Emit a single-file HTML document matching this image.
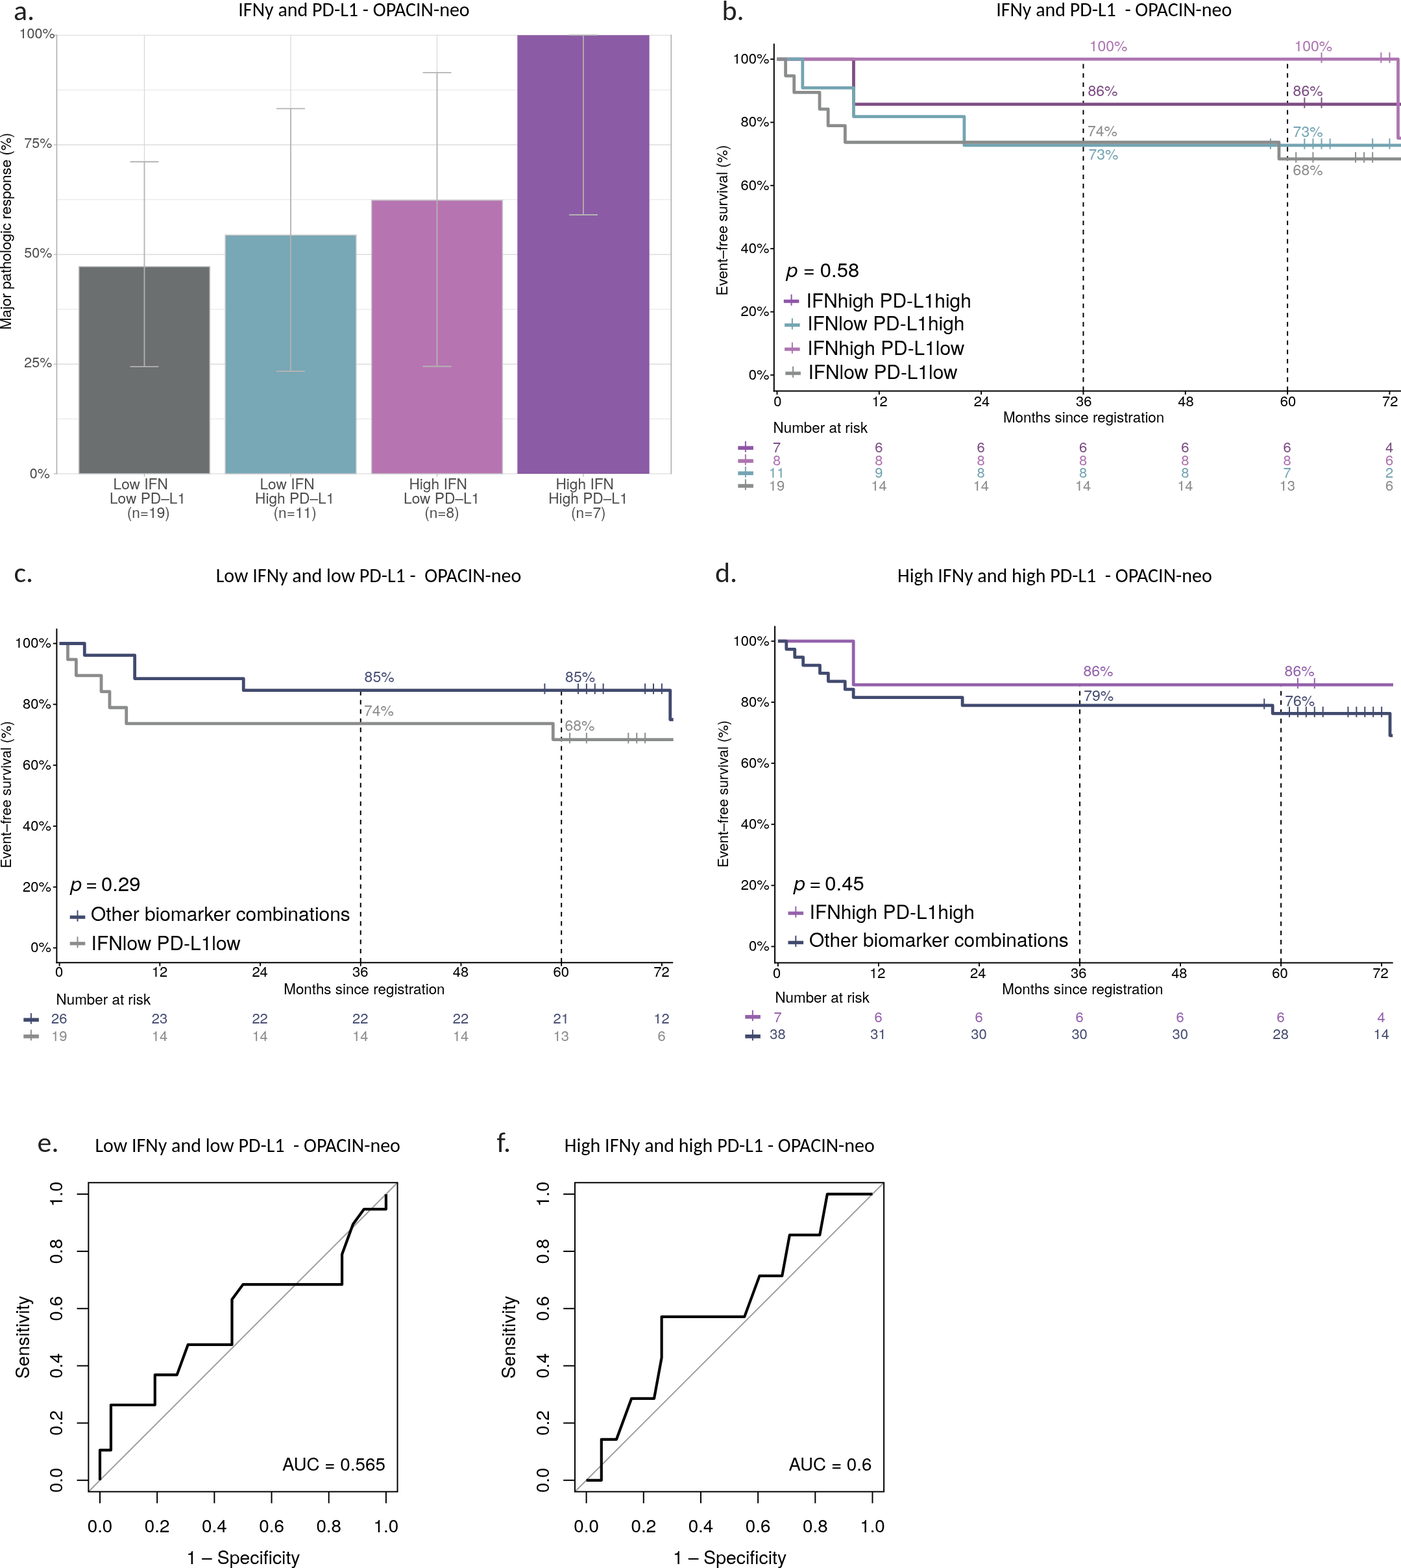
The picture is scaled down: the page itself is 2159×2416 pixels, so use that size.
<!DOCTYPE html>
<html><head><meta charset="utf-8"><title>Figure</title>
<style>html,body{margin:0;padding:0;background:#fff;}body{width:2159px;height:2416px;overflow:hidden;}svg{display:block;}</style>
</head><body>
<svg width="2159" height="2416" viewBox="0 0 2159 2416">
<rect x="0.00" y="0.00" width="2159.00" height="2416.00" fill="#fff" />
<line x1="87.50" y1="645.52" x2="1034.30" y2="645.52" stroke="#e5e5e5" stroke-width="1.0" />
<line x1="87.50" y1="476.58" x2="1034.30" y2="476.58" stroke="#e5e5e5" stroke-width="1.0" />
<line x1="87.50" y1="307.62" x2="1034.30" y2="307.62" stroke="#e5e5e5" stroke-width="1.0" />
<line x1="87.50" y1="138.68" x2="1034.30" y2="138.68" stroke="#e5e5e5" stroke-width="1.0" />
<line x1="87.50" y1="730.00" x2="1034.30" y2="730.00" stroke="#d6d6d6" stroke-width="1.15" />
<line x1="87.50" y1="561.05" x2="1034.30" y2="561.05" stroke="#d6d6d6" stroke-width="1.15" />
<line x1="87.50" y1="392.10" x2="1034.30" y2="392.10" stroke="#d6d6d6" stroke-width="1.15" />
<line x1="87.50" y1="223.15" x2="1034.30" y2="223.15" stroke="#d6d6d6" stroke-width="1.15" />
<line x1="87.50" y1="54.20" x2="1034.30" y2="54.20" stroke="#d6d6d6" stroke-width="1.15" />
<line x1="222.50" y1="54.20" x2="222.50" y2="730.00" stroke="#d6d6d6" stroke-width="1.15" />
<line x1="448.00" y1="54.20" x2="448.00" y2="730.00" stroke="#d6d6d6" stroke-width="1.15" />
<line x1="673.50" y1="54.20" x2="673.50" y2="730.00" stroke="#d6d6d6" stroke-width="1.15" />
<line x1="899.00" y1="54.20" x2="899.00" y2="730.00" stroke="#d6d6d6" stroke-width="1.15" />
<rect x="121.60" y="410.68" width="201.80" height="319.32" fill="#6b6f70" stroke="#c9c9cc" stroke-width="1.6"/>
<rect x="347.10" y="362.18" width="201.80" height="367.82" fill="#78a7b5" stroke="#c9c9cc" stroke-width="1.6"/>
<rect x="572.60" y="308.43" width="201.80" height="421.57" fill="#b675b0" stroke="#c9c9cc" stroke-width="1.6"/>
<rect x="797.30" y="54.20" width="203.40" height="675.80" fill="#8c5ba5" />
<line x1="87.50" y1="53.60" x2="87.50" y2="730.60" stroke="#a6a6a6" stroke-width="1.4" />
<line x1="1034.30" y1="53.60" x2="1034.30" y2="730.60" stroke="#a6a6a6" stroke-width="1.4" />
<line x1="222.50" y1="564.79" x2="222.50" y2="249.26" stroke="#b3b3b3" stroke-width="1.8" />
<line x1="200.50" y1="564.79" x2="244.50" y2="564.79" stroke="#b3b3b3" stroke-width="1.8" />
<line x1="200.50" y1="249.26" x2="244.50" y2="249.26" stroke="#b3b3b3" stroke-width="1.8" />
<line x1="448.00" y1="572.00" x2="448.00" y2="167.39" stroke="#b3b3b3" stroke-width="1.8" />
<line x1="426.00" y1="572.00" x2="470.00" y2="572.00" stroke="#b3b3b3" stroke-width="1.8" />
<line x1="426.00" y1="167.39" x2="470.00" y2="167.39" stroke="#b3b3b3" stroke-width="1.8" />
<line x1="673.50" y1="564.52" x2="673.50" y2="111.80" stroke="#b3b3b3" stroke-width="1.8" />
<line x1="651.50" y1="564.52" x2="695.50" y2="564.52" stroke="#b3b3b3" stroke-width="1.8" />
<line x1="651.50" y1="111.80" x2="695.50" y2="111.80" stroke="#b3b3b3" stroke-width="1.8" />
<line x1="899.00" y1="331.02" x2="899.00" y2="54.20" stroke="#b3b3b3" stroke-width="1.8" />
<line x1="877.00" y1="331.02" x2="921.00" y2="331.02" stroke="#b3b3b3" stroke-width="1.8" />
<line x1="877.00" y1="54.20" x2="921.00" y2="54.20" stroke="#b3b3b3" stroke-width="1.8" />
<line x1="82.80" y1="54.20" x2="87.50" y2="54.20" stroke="#b3b3b3" stroke-width="1.2" />
<text x="84.60" y="59.40" font-size="21.5" fill="#4d4d4d" text-anchor="end" font-family="'TeX Gyre Heros', 'Liberation Sans', Arial, Helvetica, sans-serif" style="white-space:pre" >100%</text>
<line x1="82.80" y1="223.15" x2="87.50" y2="223.15" stroke="#b3b3b3" stroke-width="1.2" />
<text x="80.30" y="228.35" font-size="21.5" fill="#4d4d4d" text-anchor="end" font-family="'TeX Gyre Heros', 'Liberation Sans', Arial, Helvetica, sans-serif" style="white-space:pre" >75%</text>
<line x1="82.80" y1="392.10" x2="87.50" y2="392.10" stroke="#b3b3b3" stroke-width="1.2" />
<text x="80.30" y="397.30" font-size="21.5" fill="#4d4d4d" text-anchor="end" font-family="'TeX Gyre Heros', 'Liberation Sans', Arial, Helvetica, sans-serif" style="white-space:pre" >50%</text>
<line x1="82.80" y1="561.05" x2="87.50" y2="561.05" stroke="#b3b3b3" stroke-width="1.2" />
<text x="80.30" y="566.25" font-size="21.5" fill="#4d4d4d" text-anchor="end" font-family="'TeX Gyre Heros', 'Liberation Sans', Arial, Helvetica, sans-serif" style="white-space:pre" >25%</text>
<line x1="82.80" y1="730.00" x2="87.50" y2="730.00" stroke="#b3b3b3" stroke-width="1.2" />
<text x="76.80" y="736.50" font-size="21.5" fill="#4d4d4d" text-anchor="end" font-family="'TeX Gyre Heros', 'Liberation Sans', Arial, Helvetica, sans-serif" style="white-space:pre" >0%</text>
<line x1="222.50" y1="730.00" x2="222.50" y2="734.40" stroke="#b3b3b3" stroke-width="1.2" />
<line x1="448.00" y1="730.00" x2="448.00" y2="734.40" stroke="#b3b3b3" stroke-width="1.2" />
<line x1="673.50" y1="730.00" x2="673.50" y2="734.40" stroke="#b3b3b3" stroke-width="1.2" />
<line x1="899.00" y1="730.00" x2="899.00" y2="734.40" stroke="#b3b3b3" stroke-width="1.2" />
<text x="216.70" y="753.60" font-size="22.7" fill="#4d4d4d" text-anchor="middle" font-family="'TeX Gyre Heros', 'Liberation Sans', Arial, Helvetica, sans-serif" style="white-space:pre" >Low IFN</text>
<text x="227.50" y="775.70" font-size="22.7" fill="#4d4d4d" text-anchor="middle" font-family="'TeX Gyre Heros', 'Liberation Sans', Arial, Helvetica, sans-serif" style="white-space:pre" >Low PD–L1</text>
<text x="228.80" y="797.60" font-size="22.7" fill="#4d4d4d" text-anchor="middle" font-family="'TeX Gyre Heros', 'Liberation Sans', Arial, Helvetica, sans-serif" style="white-space:pre" >(n=19)</text>
<text x="442.60" y="753.60" font-size="22.7" fill="#4d4d4d" text-anchor="middle" font-family="'TeX Gyre Heros', 'Liberation Sans', Arial, Helvetica, sans-serif" style="white-space:pre" >Low IFN</text>
<text x="454.20" y="775.70" font-size="22.7" fill="#4d4d4d" text-anchor="middle" font-family="'TeX Gyre Heros', 'Liberation Sans', Arial, Helvetica, sans-serif" style="white-space:pre" >High PD–L1</text>
<text x="454.60" y="797.60" font-size="22.7" fill="#4d4d4d" text-anchor="middle" font-family="'TeX Gyre Heros', 'Liberation Sans', Arial, Helvetica, sans-serif" style="white-space:pre" >(n=11)</text>
<text x="675.20" y="753.60" font-size="22.7" fill="#4d4d4d" text-anchor="middle" font-family="'TeX Gyre Heros', 'Liberation Sans', Arial, Helvetica, sans-serif" style="white-space:pre" >High IFN</text>
<text x="680.60" y="775.70" font-size="22.7" fill="#4d4d4d" text-anchor="middle" font-family="'TeX Gyre Heros', 'Liberation Sans', Arial, Helvetica, sans-serif" style="white-space:pre" >Low PD–L1</text>
<text x="681.00" y="797.60" font-size="22.7" fill="#4d4d4d" text-anchor="middle" font-family="'TeX Gyre Heros', 'Liberation Sans', Arial, Helvetica, sans-serif" style="white-space:pre" >(n=8)</text>
<text x="901.20" y="753.60" font-size="22.7" fill="#4d4d4d" text-anchor="middle" font-family="'TeX Gyre Heros', 'Liberation Sans', Arial, Helvetica, sans-serif" style="white-space:pre" >High IFN</text>
<text x="906.40" y="775.70" font-size="22.7" fill="#4d4d4d" text-anchor="middle" font-family="'TeX Gyre Heros', 'Liberation Sans', Arial, Helvetica, sans-serif" style="white-space:pre" >High PD–L1</text>
<text x="906.80" y="797.60" font-size="22.7" fill="#4d4d4d" text-anchor="middle" font-family="'TeX Gyre Heros', 'Liberation Sans', Arial, Helvetica, sans-serif" style="white-space:pre" >(n=7)</text>
<text x="0.00" y="0.00" font-size="22.4" fill="#000" text-anchor="middle" font-family="'TeX Gyre Heros', 'Liberation Sans', Arial, Helvetica, sans-serif" style="white-space:pre" transform="translate(17.0,356.4) rotate(-90)">Major pathologic response (%)</text>
<text x="21.00" y="30.80" font-size="44" fill="#222" text-anchor="start" font-family="Carlito, Calibri, 'Liberation Sans', sans-serif" style="white-space:pre"  textLength="32.19" lengthAdjust="spacingAndGlyphs">a.</text>
<text x="545.50" y="24.80" font-size="30" fill="#000" text-anchor="middle" font-family="Carlito, Calibri, 'Liberation Sans', sans-serif" style="white-space:pre"  textLength="356.36" lengthAdjust="spacingAndGlyphs">IFNy and PD-L1 - OPACIN-neo</text>
<path d="M1669.46,602.60 V91.20" fill="none" stroke="#000" stroke-width="2.0" stroke-dasharray="7.1 7.1"/>
<path d="M1984.10,602.60 V91.20" fill="none" stroke="#000" stroke-width="2.0" stroke-dasharray="7.1 7.1"/>
<path d="M1197.50,91.20 H1315.49 V160.71 H2164.00" fill="none" stroke="#7f4f84" stroke-width="4.8" stroke-linejoin="round"/>
<line x1="2010.32" y1="150.21" x2="2010.32" y2="166.51" stroke="#7f4f84" stroke-width="2.0" />
<line x1="2036.54" y1="150.21" x2="2036.54" y2="166.51" stroke="#7f4f84" stroke-width="2.0" />
<path d="M1197.50,91.20 H2154.53 V212.85 H2164.00" fill="none" stroke="#ad75b0" stroke-width="4.8" stroke-linejoin="round"/>
<line x1="2036.54" y1="80.70" x2="2036.54" y2="97.00" stroke="#ad75b0" stroke-width="2.0" />
<line x1="2128.31" y1="80.70" x2="2128.31" y2="97.00" stroke="#ad75b0" stroke-width="2.0" />
<line x1="2141.42" y1="80.70" x2="2141.42" y2="97.00" stroke="#ad75b0" stroke-width="2.0" />
<path d="M1197.50,91.20 H1236.83 V135.44 H1315.49 V179.67 H1485.92 V223.91 H2164.00" fill="none" stroke="#74a4b2" stroke-width="4.8" stroke-linejoin="round"/>
<line x1="1957.88" y1="213.41" x2="1957.88" y2="229.71" stroke="#74a4b2" stroke-width="2.0" />
<line x1="2010.32" y1="213.41" x2="2010.32" y2="229.71" stroke="#74a4b2" stroke-width="2.0" />
<line x1="2023.43" y1="213.41" x2="2023.43" y2="229.71" stroke="#74a4b2" stroke-width="2.0" />
<line x1="2036.54" y1="213.41" x2="2036.54" y2="229.71" stroke="#74a4b2" stroke-width="2.0" />
<line x1="2049.65" y1="213.41" x2="2049.65" y2="229.71" stroke="#74a4b2" stroke-width="2.0" />
<line x1="2115.20" y1="213.41" x2="2115.20" y2="229.71" stroke="#74a4b2" stroke-width="2.0" />
<line x1="2141.42" y1="213.41" x2="2141.42" y2="229.71" stroke="#74a4b2" stroke-width="2.0" />
<path d="M1197.50,91.20 H1210.61 V116.81 H1223.72 V142.42 H1263.05 V168.03 H1276.16 V193.64 H1302.38 V219.25 H1970.99 V244.86 H2164.00" fill="none" stroke="#8b8c8c" stroke-width="4.8" stroke-linejoin="round"/>
<line x1="1997.21" y1="234.36" x2="1997.21" y2="250.66" stroke="#8b8c8c" stroke-width="2.0" />
<line x1="2023.43" y1="234.36" x2="2023.43" y2="250.66" stroke="#8b8c8c" stroke-width="2.0" />
<line x1="2088.98" y1="234.36" x2="2088.98" y2="250.66" stroke="#8b8c8c" stroke-width="2.0" />
<line x1="2102.09" y1="234.36" x2="2102.09" y2="250.66" stroke="#8b8c8c" stroke-width="2.0" />
<line x1="2115.20" y1="234.36" x2="2115.20" y2="250.66" stroke="#8b8c8c" stroke-width="2.0" />
<line x1="1192.80" y1="67.20" x2="1192.80" y2="603.60" stroke="#000" stroke-width="2.0" />
<line x1="1191.80" y1="602.60" x2="2165.00" y2="602.60" stroke="#000" stroke-width="2.0" />
<line x1="1187.20" y1="577.80" x2="1192.80" y2="577.80" stroke="#000" stroke-width="1.9" />
<text x="1185.60" y="584.70" font-size="22" fill="#000" text-anchor="end" font-family="'TeX Gyre Heros', 'Liberation Sans', Arial, Helvetica, sans-serif" style="white-space:pre" >0%</text>
<line x1="1187.20" y1="480.48" x2="1192.80" y2="480.48" stroke="#000" stroke-width="1.9" />
<text x="1185.60" y="487.38" font-size="22" fill="#000" text-anchor="end" font-family="'TeX Gyre Heros', 'Liberation Sans', Arial, Helvetica, sans-serif" style="white-space:pre" >20%</text>
<line x1="1187.20" y1="383.16" x2="1192.80" y2="383.16" stroke="#000" stroke-width="1.9" />
<text x="1185.60" y="390.06" font-size="22" fill="#000" text-anchor="end" font-family="'TeX Gyre Heros', 'Liberation Sans', Arial, Helvetica, sans-serif" style="white-space:pre" >40%</text>
<line x1="1187.20" y1="285.84" x2="1192.80" y2="285.84" stroke="#000" stroke-width="1.9" />
<text x="1185.60" y="292.74" font-size="22" fill="#000" text-anchor="end" font-family="'TeX Gyre Heros', 'Liberation Sans', Arial, Helvetica, sans-serif" style="white-space:pre" >60%</text>
<line x1="1187.20" y1="188.52" x2="1192.80" y2="188.52" stroke="#000" stroke-width="1.9" />
<text x="1185.60" y="195.42" font-size="22" fill="#000" text-anchor="end" font-family="'TeX Gyre Heros', 'Liberation Sans', Arial, Helvetica, sans-serif" style="white-space:pre" >80%</text>
<line x1="1187.20" y1="91.20" x2="1192.80" y2="91.20" stroke="#000" stroke-width="1.9" />
<text x="1185.60" y="98.10" font-size="22" fill="#000" text-anchor="end" font-family="'TeX Gyre Heros', 'Liberation Sans', Arial, Helvetica, sans-serif" style="white-space:pre" >100%</text>
<line x1="1197.50" y1="602.60" x2="1197.50" y2="608.00" stroke="#000" stroke-width="1.9" />
<text x="1198.30" y="625.60" font-size="22" fill="#000" text-anchor="middle" font-family="'TeX Gyre Heros', 'Liberation Sans', Arial, Helvetica, sans-serif" style="white-space:pre" >0</text>
<line x1="1354.82" y1="602.60" x2="1354.82" y2="608.00" stroke="#000" stroke-width="1.9" />
<text x="1355.62" y="625.60" font-size="22" fill="#000" text-anchor="middle" font-family="'TeX Gyre Heros', 'Liberation Sans', Arial, Helvetica, sans-serif" style="white-space:pre" >12</text>
<line x1="1512.14" y1="602.60" x2="1512.14" y2="608.00" stroke="#000" stroke-width="1.9" />
<text x="1512.94" y="625.60" font-size="22" fill="#000" text-anchor="middle" font-family="'TeX Gyre Heros', 'Liberation Sans', Arial, Helvetica, sans-serif" style="white-space:pre" >24</text>
<line x1="1669.46" y1="602.60" x2="1669.46" y2="608.00" stroke="#000" stroke-width="1.9" />
<text x="1670.26" y="625.60" font-size="22" fill="#000" text-anchor="middle" font-family="'TeX Gyre Heros', 'Liberation Sans', Arial, Helvetica, sans-serif" style="white-space:pre" >36</text>
<line x1="1826.78" y1="602.60" x2="1826.78" y2="608.00" stroke="#000" stroke-width="1.9" />
<text x="1827.58" y="625.60" font-size="22" fill="#000" text-anchor="middle" font-family="'TeX Gyre Heros', 'Liberation Sans', Arial, Helvetica, sans-serif" style="white-space:pre" >48</text>
<line x1="1984.10" y1="602.60" x2="1984.10" y2="608.00" stroke="#000" stroke-width="1.9" />
<text x="1984.90" y="625.60" font-size="22" fill="#000" text-anchor="middle" font-family="'TeX Gyre Heros', 'Liberation Sans', Arial, Helvetica, sans-serif" style="white-space:pre" >60</text>
<line x1="2141.42" y1="602.60" x2="2141.42" y2="608.00" stroke="#000" stroke-width="1.9" />
<text x="2142.22" y="625.60" font-size="22" fill="#000" text-anchor="middle" font-family="'TeX Gyre Heros', 'Liberation Sans', Arial, Helvetica, sans-serif" style="white-space:pre" >72</text>
<text x="1670.10" y="651.40" font-size="22.4" fill="#000" text-anchor="middle" font-family="'TeX Gyre Heros', 'Liberation Sans', Arial, Helvetica, sans-serif" style="white-space:pre" >Months since registration</text>
<text x="0.00" y="0.00" font-size="22.5" fill="#000" text-anchor="middle" font-family="'TeX Gyre Heros', 'Liberation Sans', Arial, Helvetica, sans-serif" style="white-space:pre" transform="translate(1121.30,339.50) rotate(-90)">Event–free survival (%)</text>
<text x="1678.70" y="78.50" font-size="23" fill="#ad75b0" text-anchor="start" font-family="'TeX Gyre Heros', 'Liberation Sans', Arial, Helvetica, sans-serif" style="white-space:pre" >100%</text>
<text x="1994.40" y="78.50" font-size="23" fill="#ad75b0" text-anchor="start" font-family="'TeX Gyre Heros', 'Liberation Sans', Arial, Helvetica, sans-serif" style="white-space:pre" >100%</text>
<text x="1676.50" y="148.40" font-size="23" fill="#7b4d82" text-anchor="start" font-family="'TeX Gyre Heros', 'Liberation Sans', Arial, Helvetica, sans-serif" style="white-space:pre" >86%</text>
<text x="1992.60" y="148.40" font-size="23" fill="#7b4d82" text-anchor="start" font-family="'TeX Gyre Heros', 'Liberation Sans', Arial, Helvetica, sans-serif" style="white-space:pre" >86%</text>
<text x="1676.00" y="209.70" font-size="23" fill="#8b8c8c" text-anchor="start" font-family="'TeX Gyre Heros', 'Liberation Sans', Arial, Helvetica, sans-serif" style="white-space:pre" >74%</text>
<text x="1992.60" y="210.50" font-size="23" fill="#74a4b2" text-anchor="start" font-family="'TeX Gyre Heros', 'Liberation Sans', Arial, Helvetica, sans-serif" style="white-space:pre" >73%</text>
<text x="1677.40" y="246.20" font-size="23" fill="#74a4b2" text-anchor="start" font-family="'TeX Gyre Heros', 'Liberation Sans', Arial, Helvetica, sans-serif" style="white-space:pre" >73%</text>
<text x="1992.60" y="269.60" font-size="23" fill="#8b8c8c" text-anchor="start" font-family="'TeX Gyre Heros', 'Liberation Sans', Arial, Helvetica, sans-serif" style="white-space:pre" >68%</text>
<text x="1212.00" y="427.30" font-size="31" fill="#000" font-family="'TeX Gyre Heros', 'Liberation Sans', Arial, Helvetica, sans-serif"><tspan font-style="italic">p</tspan><tspan dx="8.5">=</tspan><tspan dx="8">0.58</tspan></text>
<rect x="1207.80" y="461.60" width="23.60" height="5.20" fill="#8e55a8" />
<line x1="1219.60" y1="453.60" x2="1219.60" y2="470.80" stroke="#8e55a8" stroke-width="2.0" />
<text x="1242.60" y="473.50" font-size="29.9" fill="#000" text-anchor="start" font-family="'TeX Gyre Heros', 'Liberation Sans', Arial, Helvetica, sans-serif" style="white-space:pre" >IFNhigh PD-L1high</text>
<rect x="1209.10" y="498.30" width="23.60" height="5.20" fill="#74a4b2" />
<line x1="1220.90" y1="490.30" x2="1220.90" y2="507.50" stroke="#74a4b2" stroke-width="2.0" />
<text x="1244.20" y="509.20" font-size="29.9" fill="#000" text-anchor="start" font-family="'TeX Gyre Heros', 'Liberation Sans', Arial, Helvetica, sans-serif" style="white-space:pre" >IFNlow PD-L1high</text>
<rect x="1209.10" y="535.50" width="23.60" height="5.20" fill="#ad75b0" />
<line x1="1220.90" y1="527.50" x2="1220.90" y2="544.70" stroke="#ad75b0" stroke-width="2.0" />
<text x="1244.20" y="546.60" font-size="29.9" fill="#000" text-anchor="start" font-family="'TeX Gyre Heros', 'Liberation Sans', Arial, Helvetica, sans-serif" style="white-space:pre" >IFNhigh PD-L1low</text>
<rect x="1210.30" y="572.60" width="23.60" height="5.20" fill="#8b8c8c" />
<line x1="1222.10" y1="564.60" x2="1222.10" y2="581.80" stroke="#8b8c8c" stroke-width="2.0" />
<text x="1245.40" y="583.60" font-size="29.9" fill="#000" text-anchor="start" font-family="'TeX Gyre Heros', 'Liberation Sans', Arial, Helvetica, sans-serif" style="white-space:pre" >IFNlow PD-L1low</text>
<text x="1191.60" y="666.90" font-size="22.4" fill="#000" text-anchor="start" font-family="'TeX Gyre Heros', 'Liberation Sans', Arial, Helvetica, sans-serif" style="white-space:pre" >Number at risk</text>
<rect x="1137.30" y="687.30" width="23.60" height="5.80" fill="#8e55a8" />
<line x1="1148.90" y1="679.90" x2="1148.90" y2="696.60" stroke="#8e55a8" stroke-width="2.0" />
<text x="1197.10" y="697.40" font-size="22" fill="#7b4d82" text-anchor="middle" font-family="'TeX Gyre Heros', 'Liberation Sans', Arial, Helvetica, sans-serif" style="white-space:pre" >7</text>
<text x="1354.42" y="697.40" font-size="22" fill="#7b4d82" text-anchor="middle" font-family="'TeX Gyre Heros', 'Liberation Sans', Arial, Helvetica, sans-serif" style="white-space:pre" >6</text>
<text x="1511.74" y="697.40" font-size="22" fill="#7b4d82" text-anchor="middle" font-family="'TeX Gyre Heros', 'Liberation Sans', Arial, Helvetica, sans-serif" style="white-space:pre" >6</text>
<text x="1669.06" y="697.40" font-size="22" fill="#7b4d82" text-anchor="middle" font-family="'TeX Gyre Heros', 'Liberation Sans', Arial, Helvetica, sans-serif" style="white-space:pre" >6</text>
<text x="1826.38" y="697.40" font-size="22" fill="#7b4d82" text-anchor="middle" font-family="'TeX Gyre Heros', 'Liberation Sans', Arial, Helvetica, sans-serif" style="white-space:pre" >6</text>
<text x="1983.70" y="697.40" font-size="22" fill="#7b4d82" text-anchor="middle" font-family="'TeX Gyre Heros', 'Liberation Sans', Arial, Helvetica, sans-serif" style="white-space:pre" >6</text>
<text x="2141.02" y="697.40" font-size="22" fill="#7b4d82" text-anchor="middle" font-family="'TeX Gyre Heros', 'Liberation Sans', Arial, Helvetica, sans-serif" style="white-space:pre" >4</text>
<rect x="1137.30" y="707.40" width="23.60" height="5.80" fill="#ad75b0" />
<line x1="1148.90" y1="700.00" x2="1148.90" y2="716.70" stroke="#ad75b0" stroke-width="2.0" />
<text x="1197.10" y="716.60" font-size="22" fill="#ad75b0" text-anchor="middle" font-family="'TeX Gyre Heros', 'Liberation Sans', Arial, Helvetica, sans-serif" style="white-space:pre" >8</text>
<text x="1354.42" y="716.60" font-size="22" fill="#ad75b0" text-anchor="middle" font-family="'TeX Gyre Heros', 'Liberation Sans', Arial, Helvetica, sans-serif" style="white-space:pre" >8</text>
<text x="1511.74" y="716.60" font-size="22" fill="#ad75b0" text-anchor="middle" font-family="'TeX Gyre Heros', 'Liberation Sans', Arial, Helvetica, sans-serif" style="white-space:pre" >8</text>
<text x="1669.06" y="716.60" font-size="22" fill="#ad75b0" text-anchor="middle" font-family="'TeX Gyre Heros', 'Liberation Sans', Arial, Helvetica, sans-serif" style="white-space:pre" >8</text>
<text x="1826.38" y="716.60" font-size="22" fill="#ad75b0" text-anchor="middle" font-family="'TeX Gyre Heros', 'Liberation Sans', Arial, Helvetica, sans-serif" style="white-space:pre" >8</text>
<text x="1983.70" y="716.60" font-size="22" fill="#ad75b0" text-anchor="middle" font-family="'TeX Gyre Heros', 'Liberation Sans', Arial, Helvetica, sans-serif" style="white-space:pre" >8</text>
<text x="2141.02" y="716.60" font-size="22" fill="#ad75b0" text-anchor="middle" font-family="'TeX Gyre Heros', 'Liberation Sans', Arial, Helvetica, sans-serif" style="white-space:pre" >6</text>
<rect x="1137.30" y="726.30" width="23.60" height="5.80" fill="#74a4b2" />
<line x1="1148.90" y1="718.90" x2="1148.90" y2="735.60" stroke="#74a4b2" stroke-width="2.0" />
<text x="1197.10" y="736.00" font-size="22" fill="#74a4b2" text-anchor="middle" font-family="'TeX Gyre Heros', 'Liberation Sans', Arial, Helvetica, sans-serif" style="white-space:pre" >11</text>
<text x="1354.42" y="736.00" font-size="22" fill="#74a4b2" text-anchor="middle" font-family="'TeX Gyre Heros', 'Liberation Sans', Arial, Helvetica, sans-serif" style="white-space:pre" >9</text>
<text x="1511.74" y="736.00" font-size="22" fill="#74a4b2" text-anchor="middle" font-family="'TeX Gyre Heros', 'Liberation Sans', Arial, Helvetica, sans-serif" style="white-space:pre" >8</text>
<text x="1669.06" y="736.00" font-size="22" fill="#74a4b2" text-anchor="middle" font-family="'TeX Gyre Heros', 'Liberation Sans', Arial, Helvetica, sans-serif" style="white-space:pre" >8</text>
<text x="1826.38" y="736.00" font-size="22" fill="#74a4b2" text-anchor="middle" font-family="'TeX Gyre Heros', 'Liberation Sans', Arial, Helvetica, sans-serif" style="white-space:pre" >8</text>
<text x="1983.70" y="736.00" font-size="22" fill="#74a4b2" text-anchor="middle" font-family="'TeX Gyre Heros', 'Liberation Sans', Arial, Helvetica, sans-serif" style="white-space:pre" >7</text>
<text x="2141.02" y="736.00" font-size="22" fill="#74a4b2" text-anchor="middle" font-family="'TeX Gyre Heros', 'Liberation Sans', Arial, Helvetica, sans-serif" style="white-space:pre" >2</text>
<rect x="1137.30" y="745.80" width="23.60" height="5.80" fill="#8b8c8c" />
<line x1="1148.90" y1="738.40" x2="1148.90" y2="755.10" stroke="#8b8c8c" stroke-width="2.0" />
<text x="1197.10" y="756.20" font-size="22" fill="#8b8c8c" text-anchor="middle" font-family="'TeX Gyre Heros', 'Liberation Sans', Arial, Helvetica, sans-serif" style="white-space:pre" >19</text>
<text x="1354.42" y="756.20" font-size="22" fill="#8b8c8c" text-anchor="middle" font-family="'TeX Gyre Heros', 'Liberation Sans', Arial, Helvetica, sans-serif" style="white-space:pre" >14</text>
<text x="1511.74" y="756.20" font-size="22" fill="#8b8c8c" text-anchor="middle" font-family="'TeX Gyre Heros', 'Liberation Sans', Arial, Helvetica, sans-serif" style="white-space:pre" >14</text>
<text x="1669.06" y="756.20" font-size="22" fill="#8b8c8c" text-anchor="middle" font-family="'TeX Gyre Heros', 'Liberation Sans', Arial, Helvetica, sans-serif" style="white-space:pre" >14</text>
<text x="1826.38" y="756.20" font-size="22" fill="#8b8c8c" text-anchor="middle" font-family="'TeX Gyre Heros', 'Liberation Sans', Arial, Helvetica, sans-serif" style="white-space:pre" >14</text>
<text x="1983.70" y="756.20" font-size="22" fill="#8b8c8c" text-anchor="middle" font-family="'TeX Gyre Heros', 'Liberation Sans', Arial, Helvetica, sans-serif" style="white-space:pre" >13</text>
<text x="2141.02" y="756.20" font-size="22" fill="#8b8c8c" text-anchor="middle" font-family="'TeX Gyre Heros', 'Liberation Sans', Arial, Helvetica, sans-serif" style="white-space:pre" >6</text>
<text x="1112.50" y="30.70" font-size="44" fill="#222" text-anchor="start" font-family="Carlito, Calibri, 'Liberation Sans', sans-serif" style="white-space:pre"  textLength="34.23" lengthAdjust="spacingAndGlyphs">b.</text>
<text x="1716.70" y="24.80" font-size="30" fill="#000" text-anchor="middle" font-family="Carlito, Calibri, 'Liberation Sans', sans-serif" style="white-space:pre"  textLength="363.14" lengthAdjust="spacingAndGlyphs">IFNy and PD-L1  - OPACIN-neo</text>
<path d="M555.75,1483.20 V1063.65" fill="none" stroke="#000" stroke-width="2.0" stroke-dasharray="7.1 7.1"/>
<path d="M865.18,1483.20 V1063.65" fill="none" stroke="#000" stroke-width="2.0" stroke-dasharray="7.1 7.1"/>
<path d="M91.60,991.50 H104.49 V1016.18 H117.39 V1040.87 H156.06 V1065.55 H168.96 V1090.24 H194.74 V1114.92 H852.29 V1139.61 H1037.70" fill="none" stroke="#8b8c8c" stroke-width="4.8" stroke-linejoin="round"/>
<line x1="878.07" y1="1129.11" x2="878.07" y2="1145.41" stroke="#8b8c8c" stroke-width="2.0" />
<line x1="903.86" y1="1129.11" x2="903.86" y2="1145.41" stroke="#8b8c8c" stroke-width="2.0" />
<line x1="968.32" y1="1129.11" x2="968.32" y2="1145.41" stroke="#8b8c8c" stroke-width="2.0" />
<line x1="981.22" y1="1129.11" x2="981.22" y2="1145.41" stroke="#8b8c8c" stroke-width="2.0" />
<line x1="994.11" y1="1129.11" x2="994.11" y2="1145.41" stroke="#8b8c8c" stroke-width="2.0" />
<path d="M91.60,991.50 H130.28 V1009.54 H207.64 V1045.62 H375.25 V1063.65 H1032.79 V1108.75 H1037.70" fill="none" stroke="#414a6e" stroke-width="4.8" stroke-linejoin="round"/>
<line x1="839.39" y1="1053.15" x2="839.39" y2="1069.45" stroke="#414a6e" stroke-width="2.0" />
<line x1="890.97" y1="1053.15" x2="890.97" y2="1069.45" stroke="#414a6e" stroke-width="2.0" />
<line x1="903.86" y1="1053.15" x2="903.86" y2="1069.45" stroke="#414a6e" stroke-width="2.0" />
<line x1="916.75" y1="1053.15" x2="916.75" y2="1069.45" stroke="#414a6e" stroke-width="2.0" />
<line x1="929.65" y1="1053.15" x2="929.65" y2="1069.45" stroke="#414a6e" stroke-width="2.0" />
<line x1="994.11" y1="1053.15" x2="994.11" y2="1069.45" stroke="#414a6e" stroke-width="2.0" />
<line x1="1007.00" y1="1053.15" x2="1007.00" y2="1069.45" stroke="#414a6e" stroke-width="2.0" />
<line x1="1019.90" y1="1053.15" x2="1019.90" y2="1069.45" stroke="#414a6e" stroke-width="2.0" />
<line x1="87.40" y1="968.50" x2="87.40" y2="1484.20" stroke="#000" stroke-width="2.0" />
<line x1="86.40" y1="1483.20" x2="1037.30" y2="1483.20" stroke="#000" stroke-width="2.0" />
<line x1="81.80" y1="1460.50" x2="87.40" y2="1460.50" stroke="#000" stroke-width="1.9" />
<text x="79.00" y="1467.40" font-size="22" fill="#000" text-anchor="end" font-family="'TeX Gyre Heros', 'Liberation Sans', Arial, Helvetica, sans-serif" style="white-space:pre" >0%</text>
<line x1="81.80" y1="1366.70" x2="87.40" y2="1366.70" stroke="#000" stroke-width="1.9" />
<text x="79.00" y="1373.60" font-size="22" fill="#000" text-anchor="end" font-family="'TeX Gyre Heros', 'Liberation Sans', Arial, Helvetica, sans-serif" style="white-space:pre" >20%</text>
<line x1="81.80" y1="1272.90" x2="87.40" y2="1272.90" stroke="#000" stroke-width="1.9" />
<text x="79.00" y="1279.80" font-size="22" fill="#000" text-anchor="end" font-family="'TeX Gyre Heros', 'Liberation Sans', Arial, Helvetica, sans-serif" style="white-space:pre" >40%</text>
<line x1="81.80" y1="1179.10" x2="87.40" y2="1179.10" stroke="#000" stroke-width="1.9" />
<text x="79.00" y="1186.00" font-size="22" fill="#000" text-anchor="end" font-family="'TeX Gyre Heros', 'Liberation Sans', Arial, Helvetica, sans-serif" style="white-space:pre" >60%</text>
<line x1="81.80" y1="1085.30" x2="87.40" y2="1085.30" stroke="#000" stroke-width="1.9" />
<text x="79.00" y="1092.20" font-size="22" fill="#000" text-anchor="end" font-family="'TeX Gyre Heros', 'Liberation Sans', Arial, Helvetica, sans-serif" style="white-space:pre" >80%</text>
<line x1="81.80" y1="991.50" x2="87.40" y2="991.50" stroke="#000" stroke-width="1.9" />
<text x="79.00" y="998.40" font-size="22" fill="#000" text-anchor="end" font-family="'TeX Gyre Heros', 'Liberation Sans', Arial, Helvetica, sans-serif" style="white-space:pre" >100%</text>
<line x1="91.60" y1="1483.20" x2="91.60" y2="1488.60" stroke="#000" stroke-width="1.9" />
<text x="91.20" y="1505.30" font-size="22" fill="#000" text-anchor="middle" font-family="'TeX Gyre Heros', 'Liberation Sans', Arial, Helvetica, sans-serif" style="white-space:pre" >0</text>
<line x1="246.32" y1="1483.20" x2="246.32" y2="1488.60" stroke="#000" stroke-width="1.9" />
<text x="245.92" y="1505.30" font-size="22" fill="#000" text-anchor="middle" font-family="'TeX Gyre Heros', 'Liberation Sans', Arial, Helvetica, sans-serif" style="white-space:pre" >12</text>
<line x1="401.03" y1="1483.20" x2="401.03" y2="1488.60" stroke="#000" stroke-width="1.9" />
<text x="400.63" y="1505.30" font-size="22" fill="#000" text-anchor="middle" font-family="'TeX Gyre Heros', 'Liberation Sans', Arial, Helvetica, sans-serif" style="white-space:pre" >24</text>
<line x1="555.75" y1="1483.20" x2="555.75" y2="1488.60" stroke="#000" stroke-width="1.9" />
<text x="555.35" y="1505.30" font-size="22" fill="#000" text-anchor="middle" font-family="'TeX Gyre Heros', 'Liberation Sans', Arial, Helvetica, sans-serif" style="white-space:pre" >36</text>
<line x1="710.46" y1="1483.20" x2="710.46" y2="1488.60" stroke="#000" stroke-width="1.9" />
<text x="710.06" y="1505.30" font-size="22" fill="#000" text-anchor="middle" font-family="'TeX Gyre Heros', 'Liberation Sans', Arial, Helvetica, sans-serif" style="white-space:pre" >48</text>
<line x1="865.18" y1="1483.20" x2="865.18" y2="1488.60" stroke="#000" stroke-width="1.9" />
<text x="864.78" y="1505.30" font-size="22" fill="#000" text-anchor="middle" font-family="'TeX Gyre Heros', 'Liberation Sans', Arial, Helvetica, sans-serif" style="white-space:pre" >60</text>
<line x1="1019.90" y1="1483.20" x2="1019.90" y2="1488.60" stroke="#000" stroke-width="1.9" />
<text x="1019.50" y="1505.30" font-size="22" fill="#000" text-anchor="middle" font-family="'TeX Gyre Heros', 'Liberation Sans', Arial, Helvetica, sans-serif" style="white-space:pre" >72</text>
<text x="561.40" y="1531.50" font-size="22.4" fill="#000" text-anchor="middle" font-family="'TeX Gyre Heros', 'Liberation Sans', Arial, Helvetica, sans-serif" style="white-space:pre" >Months since registration</text>
<text x="0.00" y="0.00" font-size="22" fill="#000" text-anchor="middle" font-family="'TeX Gyre Heros', 'Liberation Sans', Arial, Helvetica, sans-serif" style="white-space:pre" transform="translate(17.20,1224.40) rotate(-90)">Event–free survival (%)</text>
<text x="561.60" y="1050.60" font-size="23" fill="#474e74" text-anchor="start" font-family="'TeX Gyre Heros', 'Liberation Sans', Arial, Helvetica, sans-serif" style="white-space:pre" >85%</text>
<text x="871.10" y="1050.60" font-size="23" fill="#474e74" text-anchor="start" font-family="'TeX Gyre Heros', 'Liberation Sans', Arial, Helvetica, sans-serif" style="white-space:pre" >85%</text>
<text x="561.00" y="1102.60" font-size="23" fill="#8b8c8c" text-anchor="start" font-family="'TeX Gyre Heros', 'Liberation Sans', Arial, Helvetica, sans-serif" style="white-space:pre" >74%</text>
<text x="870.50" y="1126.30" font-size="23" fill="#8b8c8c" text-anchor="start" font-family="'TeX Gyre Heros', 'Liberation Sans', Arial, Helvetica, sans-serif" style="white-space:pre" >68%</text>
<text x="108.70" y="1373.20" font-size="31" fill="#000" font-family="'TeX Gyre Heros', 'Liberation Sans', Arial, Helvetica, sans-serif"><tspan font-style="italic">p</tspan><tspan dx="6">=</tspan><tspan dx="6">0.29</tspan></text>
<rect x="107.70" y="1410.60" width="23.60" height="5.20" fill="#414a6e" />
<line x1="119.50" y1="1402.60" x2="119.50" y2="1419.80" stroke="#414a6e" stroke-width="2.0" />
<text x="140.00" y="1418.50" font-size="29.9" fill="#000" text-anchor="start" font-family="'TeX Gyre Heros', 'Liberation Sans', Arial, Helvetica, sans-serif" style="white-space:pre" >Other biomarker combinations</text>
<rect x="107.70" y="1451.20" width="23.60" height="5.20" fill="#8b8c8c" />
<line x1="119.50" y1="1443.20" x2="119.50" y2="1460.40" stroke="#8b8c8c" stroke-width="2.0" />
<text x="140.60" y="1463.60" font-size="29.9" fill="#000" text-anchor="start" font-family="'TeX Gyre Heros', 'Liberation Sans', Arial, Helvetica, sans-serif" style="white-space:pre" >IFNlow PD-L1low</text>
<text x="86.60" y="1547.70" font-size="22.4" fill="#000" text-anchor="start" font-family="'TeX Gyre Heros', 'Liberation Sans', Arial, Helvetica, sans-serif" style="white-space:pre" >Number at risk</text>
<rect x="36.30" y="1568.50" width="23.60" height="5.80" fill="#414a6e" />
<line x1="47.90" y1="1561.10" x2="47.90" y2="1577.80" stroke="#414a6e" stroke-width="2.0" />
<text x="91.20" y="1576.60" font-size="22" fill="#474e74" text-anchor="middle" font-family="'TeX Gyre Heros', 'Liberation Sans', Arial, Helvetica, sans-serif" style="white-space:pre" >26</text>
<text x="245.92" y="1576.60" font-size="22" fill="#474e74" text-anchor="middle" font-family="'TeX Gyre Heros', 'Liberation Sans', Arial, Helvetica, sans-serif" style="white-space:pre" >23</text>
<text x="400.63" y="1576.60" font-size="22" fill="#474e74" text-anchor="middle" font-family="'TeX Gyre Heros', 'Liberation Sans', Arial, Helvetica, sans-serif" style="white-space:pre" >22</text>
<text x="555.35" y="1576.60" font-size="22" fill="#474e74" text-anchor="middle" font-family="'TeX Gyre Heros', 'Liberation Sans', Arial, Helvetica, sans-serif" style="white-space:pre" >22</text>
<text x="710.06" y="1576.60" font-size="22" fill="#474e74" text-anchor="middle" font-family="'TeX Gyre Heros', 'Liberation Sans', Arial, Helvetica, sans-serif" style="white-space:pre" >22</text>
<text x="864.78" y="1576.60" font-size="22" fill="#474e74" text-anchor="middle" font-family="'TeX Gyre Heros', 'Liberation Sans', Arial, Helvetica, sans-serif" style="white-space:pre" >21</text>
<text x="1019.50" y="1576.60" font-size="22" fill="#474e74" text-anchor="middle" font-family="'TeX Gyre Heros', 'Liberation Sans', Arial, Helvetica, sans-serif" style="white-space:pre" >12</text>
<rect x="36.30" y="1594.00" width="23.60" height="5.80" fill="#8b8c8c" />
<line x1="47.90" y1="1586.60" x2="47.90" y2="1603.30" stroke="#8b8c8c" stroke-width="2.0" />
<text x="91.20" y="1604.20" font-size="22" fill="#8b8c8c" text-anchor="middle" font-family="'TeX Gyre Heros', 'Liberation Sans', Arial, Helvetica, sans-serif" style="white-space:pre" >19</text>
<text x="245.92" y="1604.20" font-size="22" fill="#8b8c8c" text-anchor="middle" font-family="'TeX Gyre Heros', 'Liberation Sans', Arial, Helvetica, sans-serif" style="white-space:pre" >14</text>
<text x="400.63" y="1604.20" font-size="22" fill="#8b8c8c" text-anchor="middle" font-family="'TeX Gyre Heros', 'Liberation Sans', Arial, Helvetica, sans-serif" style="white-space:pre" >14</text>
<text x="555.35" y="1604.20" font-size="22" fill="#8b8c8c" text-anchor="middle" font-family="'TeX Gyre Heros', 'Liberation Sans', Arial, Helvetica, sans-serif" style="white-space:pre" >14</text>
<text x="710.06" y="1604.20" font-size="22" fill="#8b8c8c" text-anchor="middle" font-family="'TeX Gyre Heros', 'Liberation Sans', Arial, Helvetica, sans-serif" style="white-space:pre" >14</text>
<text x="864.78" y="1604.20" font-size="22" fill="#8b8c8c" text-anchor="middle" font-family="'TeX Gyre Heros', 'Liberation Sans', Arial, Helvetica, sans-serif" style="white-space:pre" >13</text>
<text x="1019.50" y="1604.20" font-size="22" fill="#8b8c8c" text-anchor="middle" font-family="'TeX Gyre Heros', 'Liberation Sans', Arial, Helvetica, sans-serif" style="white-space:pre" >6</text>
<text x="21.50" y="896.70" font-size="44" fill="#222" text-anchor="start" font-family="Carlito, Calibri, 'Liberation Sans', sans-serif" style="white-space:pre"  textLength="29.72" lengthAdjust="spacingAndGlyphs">c.</text>
<text x="568.00" y="897.00" font-size="30" fill="#000" text-anchor="middle" font-family="Carlito, Calibri, 'Liberation Sans', sans-serif" style="white-space:pre"  textLength="470.50" lengthAdjust="spacingAndGlyphs">Low IFNy and low PD-L1 -  OPACIN-neo</text>
<path d="M1664.02,1483.60 V1055.11" fill="none" stroke="#000" stroke-width="2.0" stroke-dasharray="7.1 7.1"/>
<path d="M1974.10,1483.60 V1055.11" fill="none" stroke="#000" stroke-width="2.0" stroke-dasharray="7.1 7.1"/>
<path d="M1198.90,987.90 H1315.18 V1055.11 H2147.00" fill="none" stroke="#9461ab" stroke-width="4.8" stroke-linejoin="round"/>
<line x1="1999.94" y1="1044.61" x2="1999.94" y2="1060.91" stroke="#9461ab" stroke-width="2.0" />
<line x1="2025.78" y1="1044.61" x2="2025.78" y2="1060.91" stroke="#9461ab" stroke-width="2.0" />
<path d="M1198.90,987.90 H1211.82 V1000.28 H1224.74 V1012.66 H1237.66 V1025.04 H1263.50 V1037.43 H1276.42 V1049.81 H1302.26 V1062.19 H1315.18 V1074.57 H1483.14 V1086.95 H1961.18 V1099.33 H2142.06 V1133.28 H2146.20" fill="none" stroke="#414a6e" stroke-width="4.8" stroke-linejoin="round"/>
<line x1="1948.26" y1="1076.45" x2="1948.26" y2="1092.75" stroke="#414a6e" stroke-width="2.0" />
<line x1="1987.02" y1="1088.83" x2="1987.02" y2="1105.13" stroke="#414a6e" stroke-width="2.0" />
<line x1="1999.94" y1="1088.83" x2="1999.94" y2="1105.13" stroke="#414a6e" stroke-width="2.0" />
<line x1="2012.86" y1="1088.83" x2="2012.86" y2="1105.13" stroke="#414a6e" stroke-width="2.0" />
<line x1="2025.78" y1="1088.83" x2="2025.78" y2="1105.13" stroke="#414a6e" stroke-width="2.0" />
<line x1="2038.70" y1="1088.83" x2="2038.70" y2="1105.13" stroke="#414a6e" stroke-width="2.0" />
<line x1="2077.46" y1="1088.83" x2="2077.46" y2="1105.13" stroke="#414a6e" stroke-width="2.0" />
<line x1="2090.38" y1="1088.83" x2="2090.38" y2="1105.13" stroke="#414a6e" stroke-width="2.0" />
<line x1="2103.30" y1="1088.83" x2="2103.30" y2="1105.13" stroke="#414a6e" stroke-width="2.0" />
<line x1="2116.22" y1="1088.83" x2="2116.22" y2="1105.13" stroke="#414a6e" stroke-width="2.0" />
<line x1="2129.14" y1="1088.83" x2="2129.14" y2="1105.13" stroke="#414a6e" stroke-width="2.0" />
<line x1="1194.10" y1="964.50" x2="1194.10" y2="1484.60" stroke="#000" stroke-width="2.0" />
<line x1="1193.10" y1="1483.60" x2="2146.70" y2="1483.60" stroke="#000" stroke-width="2.0" />
<line x1="1188.50" y1="1458.40" x2="1194.10" y2="1458.40" stroke="#000" stroke-width="1.9" />
<text x="1185.80" y="1465.30" font-size="22" fill="#000" text-anchor="end" font-family="'TeX Gyre Heros', 'Liberation Sans', Arial, Helvetica, sans-serif" style="white-space:pre" >0%</text>
<line x1="1188.50" y1="1364.30" x2="1194.10" y2="1364.30" stroke="#000" stroke-width="1.9" />
<text x="1185.80" y="1371.20" font-size="22" fill="#000" text-anchor="end" font-family="'TeX Gyre Heros', 'Liberation Sans', Arial, Helvetica, sans-serif" style="white-space:pre" >20%</text>
<line x1="1188.50" y1="1270.20" x2="1194.10" y2="1270.20" stroke="#000" stroke-width="1.9" />
<text x="1185.80" y="1277.10" font-size="22" fill="#000" text-anchor="end" font-family="'TeX Gyre Heros', 'Liberation Sans', Arial, Helvetica, sans-serif" style="white-space:pre" >40%</text>
<line x1="1188.50" y1="1176.10" x2="1194.10" y2="1176.10" stroke="#000" stroke-width="1.9" />
<text x="1185.80" y="1183.00" font-size="22" fill="#000" text-anchor="end" font-family="'TeX Gyre Heros', 'Liberation Sans', Arial, Helvetica, sans-serif" style="white-space:pre" >60%</text>
<line x1="1188.50" y1="1082.00" x2="1194.10" y2="1082.00" stroke="#000" stroke-width="1.9" />
<text x="1185.80" y="1088.90" font-size="22" fill="#000" text-anchor="end" font-family="'TeX Gyre Heros', 'Liberation Sans', Arial, Helvetica, sans-serif" style="white-space:pre" >80%</text>
<line x1="1188.50" y1="987.90" x2="1194.10" y2="987.90" stroke="#000" stroke-width="1.9" />
<text x="1185.80" y="994.80" font-size="22" fill="#000" text-anchor="end" font-family="'TeX Gyre Heros', 'Liberation Sans', Arial, Helvetica, sans-serif" style="white-space:pre" >100%</text>
<line x1="1198.90" y1="1483.60" x2="1198.90" y2="1489.00" stroke="#000" stroke-width="1.9" />
<text x="1197.20" y="1506.80" font-size="22" fill="#000" text-anchor="middle" font-family="'TeX Gyre Heros', 'Liberation Sans', Arial, Helvetica, sans-serif" style="white-space:pre" >0</text>
<line x1="1353.94" y1="1483.60" x2="1353.94" y2="1489.00" stroke="#000" stroke-width="1.9" />
<text x="1352.24" y="1506.80" font-size="22" fill="#000" text-anchor="middle" font-family="'TeX Gyre Heros', 'Liberation Sans', Arial, Helvetica, sans-serif" style="white-space:pre" >12</text>
<line x1="1508.98" y1="1483.60" x2="1508.98" y2="1489.00" stroke="#000" stroke-width="1.9" />
<text x="1507.28" y="1506.80" font-size="22" fill="#000" text-anchor="middle" font-family="'TeX Gyre Heros', 'Liberation Sans', Arial, Helvetica, sans-serif" style="white-space:pre" >24</text>
<line x1="1664.02" y1="1483.60" x2="1664.02" y2="1489.00" stroke="#000" stroke-width="1.9" />
<text x="1662.32" y="1506.80" font-size="22" fill="#000" text-anchor="middle" font-family="'TeX Gyre Heros', 'Liberation Sans', Arial, Helvetica, sans-serif" style="white-space:pre" >36</text>
<line x1="1819.06" y1="1483.60" x2="1819.06" y2="1489.00" stroke="#000" stroke-width="1.9" />
<text x="1817.36" y="1506.80" font-size="22" fill="#000" text-anchor="middle" font-family="'TeX Gyre Heros', 'Liberation Sans', Arial, Helvetica, sans-serif" style="white-space:pre" >48</text>
<line x1="1974.10" y1="1483.60" x2="1974.10" y2="1489.00" stroke="#000" stroke-width="1.9" />
<text x="1972.40" y="1506.80" font-size="22" fill="#000" text-anchor="middle" font-family="'TeX Gyre Heros', 'Liberation Sans', Arial, Helvetica, sans-serif" style="white-space:pre" >60</text>
<line x1="2129.14" y1="1483.60" x2="2129.14" y2="1489.00" stroke="#000" stroke-width="1.9" />
<text x="2127.44" y="1506.80" font-size="22" fill="#000" text-anchor="middle" font-family="'TeX Gyre Heros', 'Liberation Sans', Arial, Helvetica, sans-serif" style="white-space:pre" >72</text>
<text x="1668.40" y="1532.10" font-size="22.4" fill="#000" text-anchor="middle" font-family="'TeX Gyre Heros', 'Liberation Sans', Arial, Helvetica, sans-serif" style="white-space:pre" >Months since registration</text>
<text x="0.00" y="0.00" font-size="22" fill="#000" text-anchor="middle" font-family="'TeX Gyre Heros', 'Liberation Sans', Arial, Helvetica, sans-serif" style="white-space:pre" transform="translate(1122.00,1223.30) rotate(-90)">Event–free survival (%)</text>
<text x="1669.40" y="1042.20" font-size="23" fill="#9461ab" text-anchor="start" font-family="'TeX Gyre Heros', 'Liberation Sans', Arial, Helvetica, sans-serif" style="white-space:pre" >86%</text>
<text x="1979.60" y="1042.20" font-size="23" fill="#9461ab" text-anchor="start" font-family="'TeX Gyre Heros', 'Liberation Sans', Arial, Helvetica, sans-serif" style="white-space:pre" >86%</text>
<text x="1670.20" y="1080.20" font-size="23" fill="#474e74" text-anchor="start" font-family="'TeX Gyre Heros', 'Liberation Sans', Arial, Helvetica, sans-serif" style="white-space:pre" >79%</text>
<text x="1980.20" y="1087.90" font-size="23" fill="#474e74" text-anchor="start" font-family="'TeX Gyre Heros', 'Liberation Sans', Arial, Helvetica, sans-serif" style="white-space:pre" >76%</text>
<text x="1223.50" y="1371.70" font-size="31" fill="#000" font-family="'TeX Gyre Heros', 'Liberation Sans', Arial, Helvetica, sans-serif"><tspan font-style="italic">p</tspan><tspan dx="6.5">=</tspan><tspan dx="6">0.45</tspan></text>
<rect x="1214.50" y="1404.50" width="23.60" height="5.20" fill="#9461ab" />
<line x1="1226.30" y1="1396.50" x2="1226.30" y2="1413.70" stroke="#9461ab" stroke-width="2.0" />
<text x="1247.60" y="1416.30" font-size="29.9" fill="#000" text-anchor="start" font-family="'TeX Gyre Heros', 'Liberation Sans', Arial, Helvetica, sans-serif" style="white-space:pre" >IFNhigh PD-L1high</text>
<rect x="1214.50" y="1449.70" width="23.60" height="5.20" fill="#414a6e" />
<line x1="1226.30" y1="1441.70" x2="1226.30" y2="1458.90" stroke="#414a6e" stroke-width="2.0" />
<text x="1247.00" y="1458.50" font-size="29.9" fill="#000" text-anchor="start" font-family="'TeX Gyre Heros', 'Liberation Sans', Arial, Helvetica, sans-serif" style="white-space:pre" >Other biomarker combinations</text>
<text x="1194.40" y="1544.60" font-size="22.4" fill="#000" text-anchor="start" font-family="'TeX Gyre Heros', 'Liberation Sans', Arial, Helvetica, sans-serif" style="white-space:pre" >Number at risk</text>
<rect x="1148.30" y="1563.90" width="23.60" height="5.80" fill="#9461ab" />
<line x1="1159.90" y1="1556.50" x2="1159.90" y2="1573.20" stroke="#9461ab" stroke-width="2.0" />
<text x="1198.50" y="1574.60" font-size="22" fill="#9461ab" text-anchor="middle" font-family="'TeX Gyre Heros', 'Liberation Sans', Arial, Helvetica, sans-serif" style="white-space:pre" >7</text>
<text x="1353.54" y="1574.60" font-size="22" fill="#9461ab" text-anchor="middle" font-family="'TeX Gyre Heros', 'Liberation Sans', Arial, Helvetica, sans-serif" style="white-space:pre" >6</text>
<text x="1508.58" y="1574.60" font-size="22" fill="#9461ab" text-anchor="middle" font-family="'TeX Gyre Heros', 'Liberation Sans', Arial, Helvetica, sans-serif" style="white-space:pre" >6</text>
<text x="1663.62" y="1574.60" font-size="22" fill="#9461ab" text-anchor="middle" font-family="'TeX Gyre Heros', 'Liberation Sans', Arial, Helvetica, sans-serif" style="white-space:pre" >6</text>
<text x="1818.66" y="1574.60" font-size="22" fill="#9461ab" text-anchor="middle" font-family="'TeX Gyre Heros', 'Liberation Sans', Arial, Helvetica, sans-serif" style="white-space:pre" >6</text>
<text x="1973.70" y="1574.60" font-size="22" fill="#9461ab" text-anchor="middle" font-family="'TeX Gyre Heros', 'Liberation Sans', Arial, Helvetica, sans-serif" style="white-space:pre" >6</text>
<text x="2128.74" y="1574.60" font-size="22" fill="#9461ab" text-anchor="middle" font-family="'TeX Gyre Heros', 'Liberation Sans', Arial, Helvetica, sans-serif" style="white-space:pre" >4</text>
<rect x="1148.30" y="1594.00" width="23.60" height="5.80" fill="#414a6e" />
<line x1="1159.90" y1="1586.60" x2="1159.90" y2="1603.30" stroke="#414a6e" stroke-width="2.0" />
<text x="1198.50" y="1600.80" font-size="22" fill="#474e74" text-anchor="middle" font-family="'TeX Gyre Heros', 'Liberation Sans', Arial, Helvetica, sans-serif" style="white-space:pre" >38</text>
<text x="1353.54" y="1600.80" font-size="22" fill="#474e74" text-anchor="middle" font-family="'TeX Gyre Heros', 'Liberation Sans', Arial, Helvetica, sans-serif" style="white-space:pre" >31</text>
<text x="1508.58" y="1600.80" font-size="22" fill="#474e74" text-anchor="middle" font-family="'TeX Gyre Heros', 'Liberation Sans', Arial, Helvetica, sans-serif" style="white-space:pre" >30</text>
<text x="1663.62" y="1600.80" font-size="22" fill="#474e74" text-anchor="middle" font-family="'TeX Gyre Heros', 'Liberation Sans', Arial, Helvetica, sans-serif" style="white-space:pre" >30</text>
<text x="1818.66" y="1600.80" font-size="22" fill="#474e74" text-anchor="middle" font-family="'TeX Gyre Heros', 'Liberation Sans', Arial, Helvetica, sans-serif" style="white-space:pre" >30</text>
<text x="1973.70" y="1600.80" font-size="22" fill="#474e74" text-anchor="middle" font-family="'TeX Gyre Heros', 'Liberation Sans', Arial, Helvetica, sans-serif" style="white-space:pre" >28</text>
<text x="2128.74" y="1600.80" font-size="22" fill="#474e74" text-anchor="middle" font-family="'TeX Gyre Heros', 'Liberation Sans', Arial, Helvetica, sans-serif" style="white-space:pre" >14</text>
<text x="1102.00" y="897.20" font-size="44" fill="#222" text-anchor="start" font-family="Carlito, Calibri, 'Liberation Sans', sans-serif" style="white-space:pre"  textLength="34.23" lengthAdjust="spacingAndGlyphs">d.</text>
<text x="1625.40" y="897.40" font-size="30" fill="#000" text-anchor="middle" font-family="Carlito, Calibri, 'Liberation Sans', sans-serif" style="white-space:pre"  textLength="484.69" lengthAdjust="spacingAndGlyphs">High IFNy and high PD-L1  - OPACIN-neo</text>
<line x1="136.36" y1="2298.44" x2="612.54" y2="1822.26" stroke="#9e9e9e" stroke-width="2.0" />
<path d="M154.00,2280.80 L154.00,2234.39 L170.96,2234.39 L170.96,2164.77 L238.79,2164.77 L238.79,2118.36 L272.70,2118.36 L289.66,2071.95 L357.49,2071.95 L357.49,2002.34 L374.45,1979.13 L527.07,1979.13 L527.07,1932.72 L544.03,1886.31 L560.98,1863.11 L594.90,1863.11 L594.90,1839.90" fill="none" stroke="#000" stroke-width="4.2" stroke-linejoin="round"/>
<rect x="136.36" y="1822.26" width="476.17" height="476.17" fill="none" stroke="#000" stroke-width="2"/>
<line x1="154.00" y1="2298.44" x2="154.00" y2="2316.24" stroke="#000" stroke-width="2" />
<text x="154.00" y="2360.50" font-size="27.8" fill="#000" text-anchor="middle" font-family="'TeX Gyre Heros', 'Liberation Sans', Arial, Helvetica, sans-serif" style="white-space:pre" >0.0</text>
<line x1="118.56" y1="2280.80" x2="136.36" y2="2280.80" stroke="#000" stroke-width="2" />
<text x="0.00" y="0.00" font-size="27.8" fill="#000" text-anchor="middle" font-family="'TeX Gyre Heros', 'Liberation Sans', Arial, Helvetica, sans-serif" style="white-space:pre" transform="translate(96.06,2280.80) rotate(-90)">0.0</text>
<line x1="242.18" y1="2298.44" x2="242.18" y2="2316.24" stroke="#000" stroke-width="2" />
<text x="242.18" y="2360.50" font-size="27.8" fill="#000" text-anchor="middle" font-family="'TeX Gyre Heros', 'Liberation Sans', Arial, Helvetica, sans-serif" style="white-space:pre" >0.2</text>
<line x1="118.56" y1="2192.62" x2="136.36" y2="2192.62" stroke="#000" stroke-width="2" />
<text x="0.00" y="0.00" font-size="27.8" fill="#000" text-anchor="middle" font-family="'TeX Gyre Heros', 'Liberation Sans', Arial, Helvetica, sans-serif" style="white-space:pre" transform="translate(96.06,2192.62) rotate(-90)">0.2</text>
<line x1="330.36" y1="2298.44" x2="330.36" y2="2316.24" stroke="#000" stroke-width="2" />
<text x="330.36" y="2360.50" font-size="27.8" fill="#000" text-anchor="middle" font-family="'TeX Gyre Heros', 'Liberation Sans', Arial, Helvetica, sans-serif" style="white-space:pre" >0.4</text>
<line x1="118.56" y1="2104.44" x2="136.36" y2="2104.44" stroke="#000" stroke-width="2" />
<text x="0.00" y="0.00" font-size="27.8" fill="#000" text-anchor="middle" font-family="'TeX Gyre Heros', 'Liberation Sans', Arial, Helvetica, sans-serif" style="white-space:pre" transform="translate(96.06,2104.44) rotate(-90)">0.4</text>
<line x1="418.54" y1="2298.44" x2="418.54" y2="2316.24" stroke="#000" stroke-width="2" />
<text x="418.54" y="2360.50" font-size="27.8" fill="#000" text-anchor="middle" font-family="'TeX Gyre Heros', 'Liberation Sans', Arial, Helvetica, sans-serif" style="white-space:pre" >0.6</text>
<line x1="118.56" y1="2016.26" x2="136.36" y2="2016.26" stroke="#000" stroke-width="2" />
<text x="0.00" y="0.00" font-size="27.8" fill="#000" text-anchor="middle" font-family="'TeX Gyre Heros', 'Liberation Sans', Arial, Helvetica, sans-serif" style="white-space:pre" transform="translate(96.06,2016.26) rotate(-90)">0.6</text>
<line x1="506.72" y1="2298.44" x2="506.72" y2="2316.24" stroke="#000" stroke-width="2" />
<text x="506.72" y="2360.50" font-size="27.8" fill="#000" text-anchor="middle" font-family="'TeX Gyre Heros', 'Liberation Sans', Arial, Helvetica, sans-serif" style="white-space:pre" >0.8</text>
<line x1="118.56" y1="1928.08" x2="136.36" y2="1928.08" stroke="#000" stroke-width="2" />
<text x="0.00" y="0.00" font-size="27.8" fill="#000" text-anchor="middle" font-family="'TeX Gyre Heros', 'Liberation Sans', Arial, Helvetica, sans-serif" style="white-space:pre" transform="translate(96.06,1928.08) rotate(-90)">0.8</text>
<line x1="594.90" y1="2298.44" x2="594.90" y2="2316.24" stroke="#000" stroke-width="2" />
<text x="594.90" y="2360.50" font-size="27.8" fill="#000" text-anchor="middle" font-family="'TeX Gyre Heros', 'Liberation Sans', Arial, Helvetica, sans-serif" style="white-space:pre" >1.0</text>
<line x1="118.56" y1="1839.90" x2="136.36" y2="1839.90" stroke="#000" stroke-width="2" />
<text x="0.00" y="0.00" font-size="27.8" fill="#000" text-anchor="middle" font-family="'TeX Gyre Heros', 'Liberation Sans', Arial, Helvetica, sans-serif" style="white-space:pre" transform="translate(96.06,1839.90) rotate(-90)">1.0</text>
<text x="374.95" y="2409.80" font-size="28.4" fill="#000" text-anchor="middle" font-family="'TeX Gyre Heros', 'Liberation Sans', Arial, Helvetica, sans-serif" style="white-space:pre" >1 – Specificity</text>
<text x="0.00" y="0.00" font-size="28.4" fill="#000" text-anchor="middle" font-family="'TeX Gyre Heros', 'Liberation Sans', Arial, Helvetica, sans-serif" style="white-space:pre" transform="translate(44.66,2060.35) rotate(-90)">Sensitivity</text>
<text x="593.90" y="2266.00" font-size="27.8" fill="#000" text-anchor="end" font-family="'TeX Gyre Heros', 'Liberation Sans', Arial, Helvetica, sans-serif" style="white-space:pre" >AUC = 0.565</text>
<text x="57.50" y="1775.30" font-size="44" fill="#222" text-anchor="start" font-family="Carlito, Calibri, 'Liberation Sans', sans-serif" style="white-space:pre"  textLength="33.00" lengthAdjust="spacingAndGlyphs">e.</text>
<text x="381.70" y="1775.00" font-size="30" fill="#000" text-anchor="middle" font-family="Carlito, Calibri, 'Liberation Sans', sans-serif" style="white-space:pre"  textLength="470.50" lengthAdjust="spacingAndGlyphs">Low IFNy and low PD-L1  - OPACIN-neo</text>
<line x1="885.96" y1="2298.44" x2="1362.14" y2="1822.26" stroke="#9e9e9e" stroke-width="2.0" />
<path d="M903.60,2280.80 L926.81,2280.80 L926.81,2217.81 L950.01,2217.81 L973.22,2154.83 L1008.02,2154.83 L1019.63,2091.84 L1019.63,2028.86 L1147.26,2028.86 L1170.46,1965.87 L1205.27,1965.87 L1216.87,1902.89 L1263.28,1902.89 L1274.88,1839.90 L1344.50,1839.90" fill="none" stroke="#000" stroke-width="4.2" stroke-linejoin="round"/>
<rect x="885.96" y="1822.26" width="476.17" height="476.17" fill="none" stroke="#000" stroke-width="2"/>
<line x1="903.60" y1="2298.44" x2="903.60" y2="2316.24" stroke="#000" stroke-width="2" />
<text x="903.60" y="2360.50" font-size="27.8" fill="#000" text-anchor="middle" font-family="'TeX Gyre Heros', 'Liberation Sans', Arial, Helvetica, sans-serif" style="white-space:pre" >0.0</text>
<line x1="868.16" y1="2280.80" x2="885.96" y2="2280.80" stroke="#000" stroke-width="2" />
<text x="0.00" y="0.00" font-size="27.8" fill="#000" text-anchor="middle" font-family="'TeX Gyre Heros', 'Liberation Sans', Arial, Helvetica, sans-serif" style="white-space:pre" transform="translate(845.66,2280.80) rotate(-90)">0.0</text>
<line x1="991.78" y1="2298.44" x2="991.78" y2="2316.24" stroke="#000" stroke-width="2" />
<text x="991.78" y="2360.50" font-size="27.8" fill="#000" text-anchor="middle" font-family="'TeX Gyre Heros', 'Liberation Sans', Arial, Helvetica, sans-serif" style="white-space:pre" >0.2</text>
<line x1="868.16" y1="2192.62" x2="885.96" y2="2192.62" stroke="#000" stroke-width="2" />
<text x="0.00" y="0.00" font-size="27.8" fill="#000" text-anchor="middle" font-family="'TeX Gyre Heros', 'Liberation Sans', Arial, Helvetica, sans-serif" style="white-space:pre" transform="translate(845.66,2192.62) rotate(-90)">0.2</text>
<line x1="1079.96" y1="2298.44" x2="1079.96" y2="2316.24" stroke="#000" stroke-width="2" />
<text x="1079.96" y="2360.50" font-size="27.8" fill="#000" text-anchor="middle" font-family="'TeX Gyre Heros', 'Liberation Sans', Arial, Helvetica, sans-serif" style="white-space:pre" >0.4</text>
<line x1="868.16" y1="2104.44" x2="885.96" y2="2104.44" stroke="#000" stroke-width="2" />
<text x="0.00" y="0.00" font-size="27.8" fill="#000" text-anchor="middle" font-family="'TeX Gyre Heros', 'Liberation Sans', Arial, Helvetica, sans-serif" style="white-space:pre" transform="translate(845.66,2104.44) rotate(-90)">0.4</text>
<line x1="1168.14" y1="2298.44" x2="1168.14" y2="2316.24" stroke="#000" stroke-width="2" />
<text x="1168.14" y="2360.50" font-size="27.8" fill="#000" text-anchor="middle" font-family="'TeX Gyre Heros', 'Liberation Sans', Arial, Helvetica, sans-serif" style="white-space:pre" >0.6</text>
<line x1="868.16" y1="2016.26" x2="885.96" y2="2016.26" stroke="#000" stroke-width="2" />
<text x="0.00" y="0.00" font-size="27.8" fill="#000" text-anchor="middle" font-family="'TeX Gyre Heros', 'Liberation Sans', Arial, Helvetica, sans-serif" style="white-space:pre" transform="translate(845.66,2016.26) rotate(-90)">0.6</text>
<line x1="1256.32" y1="2298.44" x2="1256.32" y2="2316.24" stroke="#000" stroke-width="2" />
<text x="1256.32" y="2360.50" font-size="27.8" fill="#000" text-anchor="middle" font-family="'TeX Gyre Heros', 'Liberation Sans', Arial, Helvetica, sans-serif" style="white-space:pre" >0.8</text>
<line x1="868.16" y1="1928.08" x2="885.96" y2="1928.08" stroke="#000" stroke-width="2" />
<text x="0.00" y="0.00" font-size="27.8" fill="#000" text-anchor="middle" font-family="'TeX Gyre Heros', 'Liberation Sans', Arial, Helvetica, sans-serif" style="white-space:pre" transform="translate(845.66,1928.08) rotate(-90)">0.8</text>
<line x1="1344.50" y1="2298.44" x2="1344.50" y2="2316.24" stroke="#000" stroke-width="2" />
<text x="1344.50" y="2360.50" font-size="27.8" fill="#000" text-anchor="middle" font-family="'TeX Gyre Heros', 'Liberation Sans', Arial, Helvetica, sans-serif" style="white-space:pre" >1.0</text>
<line x1="868.16" y1="1839.90" x2="885.96" y2="1839.90" stroke="#000" stroke-width="2" />
<text x="0.00" y="0.00" font-size="27.8" fill="#000" text-anchor="middle" font-family="'TeX Gyre Heros', 'Liberation Sans', Arial, Helvetica, sans-serif" style="white-space:pre" transform="translate(845.66,1839.90) rotate(-90)">1.0</text>
<text x="1124.55" y="2409.80" font-size="28.4" fill="#000" text-anchor="middle" font-family="'TeX Gyre Heros', 'Liberation Sans', Arial, Helvetica, sans-serif" style="white-space:pre" >1 – Specificity</text>
<text x="0.00" y="0.00" font-size="28.4" fill="#000" text-anchor="middle" font-family="'TeX Gyre Heros', 'Liberation Sans', Arial, Helvetica, sans-serif" style="white-space:pre" transform="translate(794.26,2060.35) rotate(-90)">Sensitivity</text>
<text x="1343.50" y="2266.00" font-size="27.8" fill="#000" text-anchor="end" font-family="'TeX Gyre Heros', 'Liberation Sans', Arial, Helvetica, sans-serif" style="white-space:pre" >AUC = 0.6</text>
<text x="765.50" y="1775.30" font-size="44" fill="#222" text-anchor="start" font-family="Carlito, Calibri, 'Liberation Sans', sans-serif" style="white-space:pre"  textLength="21.62" lengthAdjust="spacingAndGlyphs">f.</text>
<text x="1108.80" y="1775.00" font-size="30" fill="#000" text-anchor="middle" font-family="Carlito, Calibri, 'Liberation Sans', sans-serif" style="white-space:pre"  textLength="477.91" lengthAdjust="spacingAndGlyphs">High IFNy and high PD-L1 - OPACIN-neo</text>
</svg>
</body></html>
